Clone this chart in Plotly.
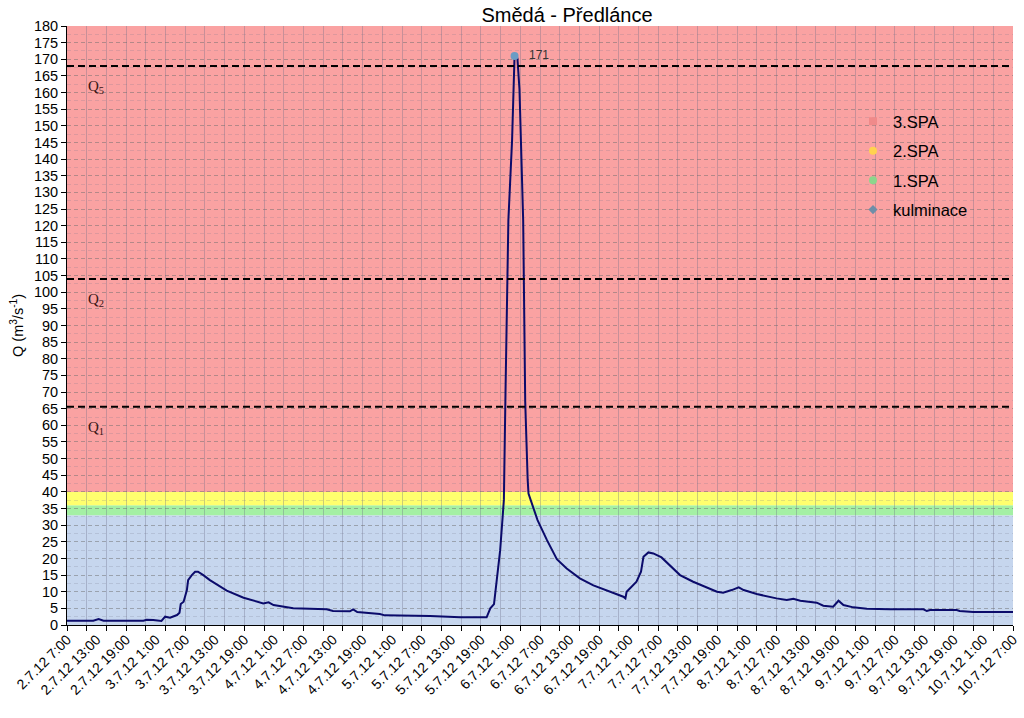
import plotly.graph_objects as go

# ---------------- data ----------------
times = [
    "2012-07-02 07:00", "2012-07-02 12:20", "2012-07-02 13:25", "2012-07-02 14:25",
    "2012-07-02 22:30", "2012-07-02 23:10", "2012-07-03 00:30", "2012-07-03 02:10",
    "2012-07-03 02:55", "2012-07-03 03:55", "2012-07-03 05:20", "2012-07-03 05:50",
    "2012-07-03 06:05", "2012-07-03 06:40", "2012-07-03 07:20", "2012-07-03 07:35",
    "2012-07-03 08:20", "2012-07-03 09:00", "2012-07-03 09:35", "2012-07-03 10:40",
    "2012-07-03 12:00", "2012-07-03 14:00", "2012-07-03 15:25", "2012-07-03 18:50",
    "2012-07-03 20:05", "2012-07-03 22:50", "2012-07-03 23:55", "2012-07-04 00:55",
    "2012-07-04 04:55", "2012-07-04 11:40", "2012-07-04 13:00", "2012-07-04 16:25",
    "2012-07-04 17:05", "2012-07-04 17:55", "2012-07-04 22:30", "2012-07-04 23:30",
    "2012-07-05 08:40", "2012-07-05 12:40", "2012-07-05 14:50", "2012-07-05 20:10",
    "2012-07-05 20:55", "2012-07-05 21:40", "2012-07-05 22:10", "2012-07-05 22:55",
    "2012-07-05 23:25", "2012-07-05 23:40", "2012-07-06 00:00", "2012-07-06 00:35",
    "2012-07-06 01:20", "2012-07-06 01:50", "2012-07-06 02:25", "2012-07-06 02:50",
    "2012-07-06 03:35", "2012-07-06 04:00", "2012-07-06 04:30", "2012-07-06 04:40",
    "2012-07-06 05:35", "2012-07-06 06:30", "2012-07-06 08:25", "2012-07-06 10:25",
    "2012-07-06 12:25", "2012-07-06 15:05", "2012-07-06 17:50", "2012-07-06 19:50",
    "2012-07-06 21:55", "2012-07-06 23:55", "2012-07-07 00:20", "2012-07-07 00:35",
    "2012-07-07 02:35", "2012-07-07 03:30", "2012-07-07 04:00", "2012-07-07 05:00",
    "2012-07-07 06:00", "2012-07-07 07:40", "2012-07-07 11:25", "2012-07-07 14:05",
    "2012-07-07 18:55", "2012-07-07 20:10", "2012-07-07 21:55", "2012-07-07 23:20",
    "2012-07-08 00:20", "2012-07-08 03:00", "2012-07-08 07:00", "2012-07-08 09:05",
    "2012-07-08 10:25", "2012-07-08 11:50", "2012-07-08 15:10", "2012-07-08 16:30",
    "2012-07-08 18:30", "2012-07-08 19:35", "2012-07-08 20:35", "2012-07-08 22:35",
    "2012-07-09 01:20", "2012-07-09 06:00", "2012-07-09 12:50", "2012-07-09 13:30",
    "2012-07-09 14:10", "2012-07-09 19:35", "2012-07-09 20:10", "2012-07-09 22:55",
    "2012-07-10 07:00",
]
flow = [
    1.3, 1.3, 1.8, 1.3,
    1.3, 1.6, 1.5, 1.2,
    2.5, 2.2, 3.0, 3.7,
    6.3, 7.0, 10.5, 13.5,
    15.0, 16.0, 16.0, 15.0,
    13.5, 11.7, 10.3, 8.2,
    7.7, 6.5, 6.8, 6.0,
    5.0, 4.7, 4.2, 4.1,
    4.7, 3.9, 3.3, 2.9,
    2.7, 2.5, 2.3, 2.3,
    5.0, 6.3, 12.5, 22.5,
    32.5, 37.6, 70.0, 121.7,
    145.7, 171.0, 170.3, 161.0,
    121.7, 67.0, 43.6, 39.5,
    35.5, 31.5, 25.5, 19.8,
    17.0, 14.0, 11.9, 10.8,
    9.5, 8.5, 8.0, 10.0,
    13.0, 16.0, 20.5, 21.8,
    21.5, 20.3, 15.0, 13.0,
    10.0, 9.7, 10.5, 11.3,
    10.5, 9.3, 8.0, 7.5,
    7.9, 7.3, 6.7, 5.8,
    5.5, 7.3, 6.0, 5.3,
    4.9, 4.7, 4.7, 4.2,
    4.5, 4.5, 4.2, 3.9,
    3.9,
]

peak_time = "2012-07-06 01:50"
peak_value = 171

q_values = [65.6, 104, 168]
q_names = ["Q<sub>1</sub>", "Q<sub>2</sub>", "Q<sub>5</sub>"]

band_edges = [0, 33, 36, 40, 180]
band_colors = ["#C6D6EE", "#A4F0A4", "#FFFF6E", "#FAA2A2"]

legend_names = ["3.SPA", "2.SPA", "1.SPA", "kulminace"]
legend_colors = ["#F08A8A", "#FFD24F", "#8CD68C", "#6E8EA8"]
legend_symbols = ["square", "circle", "circle", "diamond"]

tick_times = [
    "2012-07-02 07:00", "2012-07-02 13:00", "2012-07-02 19:00", "2012-07-03 01:00",
    "2012-07-03 07:00", "2012-07-03 13:00", "2012-07-03 19:00", "2012-07-04 01:00",
    "2012-07-04 07:00", "2012-07-04 13:00", "2012-07-04 19:00", "2012-07-05 01:00",
    "2012-07-05 07:00", "2012-07-05 13:00", "2012-07-05 19:00", "2012-07-06 01:00",
    "2012-07-06 07:00", "2012-07-06 13:00", "2012-07-06 19:00", "2012-07-07 01:00",
    "2012-07-07 07:00", "2012-07-07 13:00", "2012-07-07 19:00", "2012-07-08 01:00",
    "2012-07-08 07:00", "2012-07-08 13:00", "2012-07-08 19:00", "2012-07-09 01:00",
    "2012-07-09 07:00", "2012-07-09 13:00", "2012-07-09 19:00", "2012-07-10 01:00",
    "2012-07-10 07:00",
]
tick_labels = [
    "2.7.12 7:00", "2.7.12 13:00", "2.7.12 19:00", "3.7.12 1:00",
    "3.7.12 7:00", "3.7.12 13:00", "3.7.12 19:00", "4.7.12 1:00",
    "4.7.12 7:00", "4.7.12 13:00", "4.7.12 19:00", "5.7.12 1:00",
    "5.7.12 7:00", "5.7.12 13:00", "5.7.12 19:00", "6.7.12 1:00",
    "6.7.12 7:00", "6.7.12 13:00", "6.7.12 19:00", "7.7.12 1:00",
    "7.7.12 7:00", "7.7.12 13:00", "7.7.12 19:00", "8.7.12 1:00",
    "8.7.12 7:00", "8.7.12 13:00", "8.7.12 19:00", "9.7.12 1:00",
    "9.7.12 7:00", "9.7.12 13:00", "9.7.12 19:00", "10.7.12 1:00",
    "10.7.12 7:00",
]

x_start = tick_times[0]
x_end = tick_times[-1]

# ---------------- figure ----------------
fig = go.Figure()

shapes = []
for lo, hi, col in zip(band_edges[:-1], band_edges[1:], band_colors):
    shapes.append(dict(type="rect", xref="paper", yref="y", x0=0, x1=1, y0=lo, y1=hi,
                       fillcolor=col, line=dict(width=0), layer="below"))
for q in q_values:
    shapes.append(dict(type="line", xref="paper", yref="y", x0=0, x1=1, y0=q, y1=q,
                       line=dict(color="black", width=2, dash="7px,4px"), layer="above"))

fig.add_trace(go.Scatter(x=times, y=flow, mode="lines",
                         line=dict(color="#0B0B6B", width=2),
                         showlegend=False, hoverinfo="skip"))

fig.add_trace(go.Scatter(x=[peak_time], y=[peak_value], mode="markers",
                         marker=dict(color="#6A9CC4", size=8),
                         showlegend=False, cliponaxis=False))

for i, (nm, col, sym) in enumerate(zip(legend_names, legend_colors, legend_symbols)):
    fig.add_trace(go.Scatter(x=[None], y=[None], mode="markers", name=nm,
                             legendgroup=nm,
                             marker=dict(color=col, symbol=sym,
                                         size=8 if sym != "diamond" else 7)))

annotations = []
for q, nm in zip(q_values, q_names):
    annotations.append(dict(xref="paper", yref="y", x=0.02, y=q, yshift=-21,
                            text=nm, showarrow=False, xanchor="left", yanchor="middle",
                            font=dict(family="Liberation Serif, Times New Roman", size=15,
                                      color="#3A1515")))
annotations.append(dict(xref="x", yref="y", x=peak_time, y=peak_value, xshift=12, yshift=1,
                        text=str(peak_value), showarrow=False, xanchor="left", yanchor="middle",
                        font=dict(family="Liberation Sans, Arial", size=12, color="#333333")))

fig.update_layout(
    width=1024, height=718,
    margin=dict(l=67, r=11, t=26, b=93, autoexpand=False),
    paper_bgcolor="white",
    plot_bgcolor="rgba(0,0,0,0)",
    title=dict(text="Smědá - Předlánce", x=567 / 1024, xref="container", xanchor="center",
               y=1 - 15 / 718, yref="container", yanchor="middle",
               font=dict(family="Liberation Sans, Arial", size=20, color="black")),
    font=dict(family="Liberation Sans, Arial", color="black"),
    shapes=shapes,
    annotations=annotations,
    legend=dict(x=(853 - 67) / 946, y=(625 - 104) / 599, xanchor="left", yanchor="top",
                bgcolor="rgba(0,0,0,0)", font=dict(size=16.5, color="black"),
                traceorder="grouped", tracegroupgap=5, itemwidth=30),
    xaxis=dict(
        type="date", range=[x_start, x_end], automargin=False,
        tickmode="array", tickvals=tick_times, ticktext=tick_labels,
        tickangle=-45, ticks="", showgrid=False,
        tickfont=dict(size=14),
        showline=True, linecolor="black", linewidth=1,
        minor=dict(tickmode="linear", tick0=x_start, dtick=4 * 3600 * 1000,
                   ticks="outside", ticklen=5, tickcolor="black",
                   showgrid=True, gridcolor="rgba(105,110,135,0.35)", gridwidth=1),
        zeroline=False,
    ),
    yaxis=dict(
        range=[0, 180], tickmode="linear", tick0=0, dtick=5, automargin=False,
        ticks="outside", ticklen=5, tickcolor="black",
        tickfont=dict(size=14.5),
        showline=True, linecolor="black", linewidth=1,
        showgrid=True, gridcolor="rgba(110,110,110,0.5)", griddash="4px,3px", gridwidth=1,
        minor=dict(tickmode="linear", tick0=2.5, dtick=5, ticks="",
                   showgrid=True, gridcolor="rgba(120,120,140,0.22)", gridwidth=1),
        zeroline=False,
        title=dict(text="Q (m<sup>3</sup>/s<sup>-1</sup>)", font=dict(size=14.5), standoff=6),
    ),
)

fig.write_html("out.html")
